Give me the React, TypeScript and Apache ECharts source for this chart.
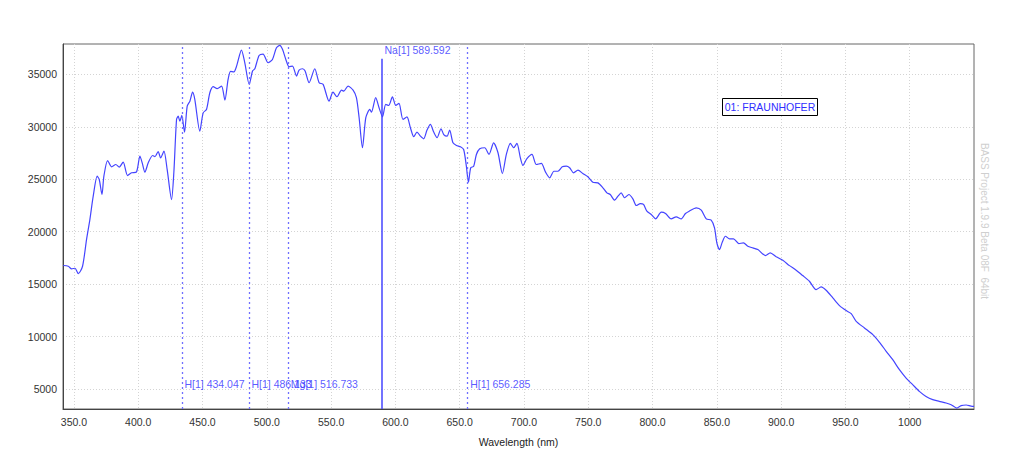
import React, { useEffect, useRef } from "react";
import * as echarts from "echarts";

const wavelengths: number[] = [
  341.7, 345.6, 348.2, 350.8, 353.4, 356.7, 359.8, 362.4, 365.0, 368.1, 369.7, 371.8, 373.3, 376.2, 379.3,
  382.6, 385.2, 388.3, 391.7, 394.8, 398.7, 401.3, 403.1, 405.2, 407.8, 411.2, 413.0, 415.5, 417.4, 420.0,
  422.5, 425.9, 427.7, 429.8, 431.1, 432.4, 433.9, 436.0, 438.1, 440.2, 442.3, 444.0, 447.9, 450.5, 453.1,
  455.7, 458.3, 461.4, 464.8, 467.4, 469.9, 471.8, 474.4, 476.5, 480.3, 482.9, 486.3, 488.9, 490.7, 494.0,
  497.1, 501.0, 504.4, 507.5, 510.1, 512.2, 514.8, 517.3, 520.0, 523.1, 525.1, 527.8, 529.8, 532.9, 537.3,
  540.7, 543.8, 548.4, 551.5, 554.6, 558.1, 559.9, 563.2, 567.1, 569.7, 571.8, 574.4, 577.0, 580.1, 581.4,
  584.7, 587.3, 590.0, 592.5, 594.8, 597.7, 600.3, 602.8, 605.9, 609.0, 611.7, 614.3, 616.8, 619.5, 622.0,
  624.6, 627.2, 629.8, 632.4, 635.5, 637.6, 640.2, 642.2, 644.8, 647.5, 650.6, 653.1, 655.2, 656.8, 658.6,
  660.9, 663.0, 665.6, 669.5, 672.8, 676.4, 679.8, 683.2, 686.3, 689.4, 692.0, 694.5, 697.2, 699.2, 702.3,
  706.2, 709.6, 713.5, 716.8, 720.0, 723.3, 726.4, 729.8, 732.9, 735.5, 738.6, 742.0, 745.8, 749.7, 753.6,
  757.5, 761.4, 764.5, 767.1, 770.5, 773.1, 775.6, 778.3, 781.6, 784.7, 787.4, 790.5, 793.0, 795.6, 799.0,
  802.4, 806.8, 810.1, 814.5, 818.4, 822.3, 825.6, 828.5, 834.0, 837.9, 841.8, 845.6, 848.2, 850.0, 852.1,
  854.2, 856.7, 859.9, 863.0, 867.1, 870.7, 874.1, 878.0, 881.9, 887.8, 891.5, 896.2, 901.3, 906.5, 911.7,
  916.8, 922.0, 927.2, 931.1, 935.0, 940.2, 945.4, 950.6, 954.5, 958.4, 964.8, 971.3, 976.5, 981.7, 986.8,
  992.0, 997.2, 1002.3, 1007.5, 1012.7, 1017.9, 1023.0, 1028.3, 1032.2, 1036.6, 1040.0, 1043.9, 1048.6, 1050.0,
];

const intensities: number[] = [
  16780, 16710, 16460, 16520, 16010, 16710, 19250, 21160, 23390, 25300, 24980, 23550, 25300, 26790, 26190,
  26410, 26160, 26630, 25360, 25620, 25710, 27210, 26570, 25680, 26570, 27270, 27150, 27650, 27050, 27680,
  25940, 23070, 25620, 30700, 31020, 30540, 31090, 29500, 31980, 32450, 33310, 32620, 29590, 31340, 31660,
  33250, 33830, 33640, 33890, 32550, 34520, 35290, 35250, 35790, 37320, 36110, 34050, 35320, 35540, 36810,
  36940, 36110, 36430, 37540, 37770, 37390, 36430, 35730, 35790, 34840, 35410, 35540, 35320, 34210, 35540,
  34210, 34050, 32450, 33310, 32870, 33500, 33410, 33890, 33500, 32780, 30870, 28010, 30870, 31660, 31400,
  32780, 31820, 30960, 32140, 32040, 32870, 32040, 32230, 30710, 30960, 29910, 29060, 29500, 29110, 28860,
  29690, 30230, 29500, 28960, 29820, 29270, 29110, 29690, 28480, 28230, 28100, 27840, 26250, 24720, 26100,
  26250, 27370, 27910, 28010, 27370, 28480, 27530, 25550, 27370, 28420, 28010, 28420, 27050, 26320, 26960,
  27370, 26410, 26510, 25680, 25140, 25770, 25770, 26190, 26250, 26100, 25620, 25870, 25550, 25240, 24720,
  24660, 24190, 23710, 23550, 23010, 23390, 23710, 23240, 23550, 23140, 22500, 22690, 22600, 21960, 21640,
  21230, 21870, 21740, 21230, 21420, 21230, 21740, 21960, 22280, 22060, 21230, 21100, 20370, 18940, 18300,
  19000, 19570, 19320, 19320, 18870, 18940, 18620, 18460, 18300, 17730, 17990, 17610, 17280, 16770, 16330,
  15820, 15280, 14480, 14740, 14420, 13690, 12960, 12480, 12190, 11460, 10830, 10190, 9460, 8600, 7800,
  6850, 6050, 5420, 4780, 4300, 3990, 3830, 3670, 3510, 3190, 3420, 3480, 3350, 3350,
];

const xTicks: number[] = [350, 400, 450, 500, 550, 600, 650, 700, 750, 800, 850, 900, 950, 1000];
const yTicks: number[] = [5000, 10000, 15000, 20000, 25000, 30000, 35000];

const dottedLineNames: string[] = ["H[1]", "H[1]", "Mg[1]", "H[1]"];
const dottedLineWavelengths: number[] = [434.047, 486.133, 516.733, 656.285];
const dottedLabelLevel = 5450;

const solidLineName = "Na[1]";
const solidLineWavelength = 589.592;
const solidLineTop = 36500;
const solidLabelLevel = 37300;

const X_MIN = 341.5;
const X_MAX = 1050;
const Y_MIN = 3100;
const Y_MAX = 37900;

const BLUE = "#4444ff";
const FONT = "'Liberation Sans', Arial, sans-serif";

export default function App() {
  const ref = useRef<HTMLDivElement>(null);

  useEffect(() => {
    if (!ref.current) return;
    const chart = echarts.init(ref.current, undefined, { renderer: "svg" });

    const lineData = wavelengths.map((w, i) => [w, intensities[i]]);

    const labelPoints = [
      ...dottedLineWavelengths.map((w, i) => ({
        value: [w, dottedLabelLevel],
        name: `${dottedLineNames[i]} ${w.toFixed(3)}`,
      })),
      { value: [solidLineWavelength, solidLabelLevel], name: `${solidLineName} ${solidLineWavelength.toFixed(3)}` },
    ];

    chart.setOption({
      animation: false,
      backgroundColor: "#ffffff",
      grid: {
        left: 63,
        right: 50,
        top: 44,
        bottom: 46,
        show: true,
        borderColor: "#666",
        borderWidth: 1,
        backgroundColor: "#ffffff",
      },
      xAxis: {
        type: "value",
        min: X_MIN,
        max: X_MAX,
        name: "Wavelength (nm)",
        nameLocation: "middle",
        nameGap: 27,
        nameTextStyle: { fontFamily: FONT, fontSize: 10.5, color: "#222" },
        axisLine: { show: true, lineStyle: { color: "#444", width: 1 } },
        axisTick: { show: false, customValues: xTicks },
        axisLabel: {
          customValues: xTicks,
          formatter: (v: number) => (v >= 1000 ? String(v) : v.toFixed(1)),
          fontFamily: FONT,
          fontSize: 10.5,
          color: "#333",
          margin: 7,
        },
        splitLine: { show: true, lineStyle: { color: "#d4d4d4", type: [1, 2], width: 1 } },
      },
      yAxis: {
        type: "value",
        min: Y_MIN,
        max: Y_MAX,
        axisLine: { show: true, lineStyle: { color: "#444", width: 1 } },
        axisTick: { show: false, customValues: yTicks },
        axisLabel: {
          customValues: yTicks,
          formatter: (v: number) => String(v),
          fontFamily: FONT,
          fontSize: 10.5,
          color: "#333",
          margin: 6,
        },
        splitLine: { show: true, lineStyle: { color: "#d4d4d4", type: [1, 2], width: 1 } },
      },
      series: [
        {
          type: "line",
          data: lineData,
          showSymbol: false,
          smooth: 0.25,
          lineStyle: { color: BLUE, width: 1.2 },
          z: 3,
          markLine: {
            silent: true,
            symbol: ["none", "none"],
            label: { show: false },
            data: [
              ...dottedLineWavelengths.map((w) => ({
                xAxis: w,
                lineStyle: { color: "#6f6fff", type: [2, 3], width: 1.3 },
              })),
              [
                { coord: [solidLineWavelength, solidLineTop], lineStyle: { color: BLUE, type: "solid", width: 1.5 } },
                { coord: [solidLineWavelength, Y_MIN] },
              ],
            ],
          },
        },
        {
          type: "scatter",
          data: labelPoints,
          symbol: "circle",
          symbolSize: 1,
          itemStyle: { color: "rgba(0,0,0,0)" },
          z: 4,
          label: {
            show: true,
            position: "right",
            distance: 2,
            formatter: (p: any) => p.name,
            fontFamily: FONT,
            fontSize: 10.5,
            color: "#2f2fff",
          },
        },
      ],
      graphic: [
        {
          type: "rect",
          shape: { x: 722.5, y: 98.5, width: 95, height: 17 },
          style: { fill: "#ffffff", stroke: "#000000", lineWidth: 1 },
          z: 10,
        },
        {
          type: "text",
          x: 770,
          y: 107,
          style: {
            text: "01: FRAUNHOFER",
            fill: "#2f2fff",
            font: `10.5px ${FONT}`,
            textAlign: "center",
            textVerticalAlign: "middle",
          },
          z: 11,
        },
        {
          type: "text",
          x: 984,
          y: 221,
          rotation: -Math.PI / 2,
          style: {
            text: "BASS Project 1.9.9 Beta 08F  64bit",
            fill: "#cfcfcf",
            font: `10px ${FONT}`,
            textAlign: "center",
            textVerticalAlign: "middle",
          },
          z: 11,
        },
      ],
    });

    return () => {
      chart.dispose();
    };
  }, []);

  return (
    <div
      ref={ref}
      style={{ position: "fixed", left: 0, top: 0, width: 1024, height: 455, background: "#ffffff" }}
    />
  );
}
